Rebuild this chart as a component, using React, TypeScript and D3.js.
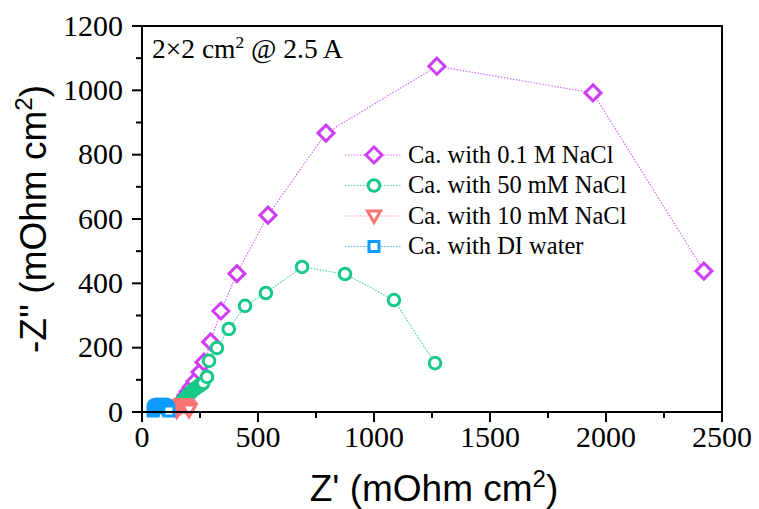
import React from 'react';
import * as d3 from 'd3';

// ---- data ----
const seriesNames = [
  'Ca. with 0.1 M NaCl',
  'Ca. with 50 mM NaCl',
  'Ca. with 10 mM NaCl',
  'Ca. with DI water',
];

const naCl100X = [150, 160, 170, 180, 190, 200, 212, 228, 250, 267, 296, 340, 409, 543, 793, 1271, 1944, 2422];
const naCl100Y = [10, 20, 30, 40, 52, 64, 78, 95, 124, 155, 218, 314, 430, 612, 867, 1075, 992, 438];

const naCl50X = [155, 160, 164, 168, 172, 176, 180, 184, 188, 192, 196, 200, 204, 208, 212, 216, 220, 224, 228, 232, 236, 240, 244, 248, 252, 256, 260, 264, 280, 289, 323, 374, 444, 534, 690, 875, 1086, 1263];
const naCl50Y = [20, 23, 26, 29, 32, 35, 38, 41, 44, 47, 50, 53, 56, 59, 62, 65, 68, 70, 72, 74, 76, 78, 80, 82, 84, 86, 88, 90, 109, 159, 199, 258, 330, 370, 451, 429, 348, 152];

const naCl10X = [150, 152, 155, 158, 161, 164, 168, 172, 176, 180, 184, 188, 192, 196, 199, 202, 204, 203];
const naCl10Y = [3, 7, 11, 14, 17, 19, 21, 22, 23, 23, 22, 21, 18, 15, 12, 9, 6, 6];

const diX = [48, 49, 51, 54, 57, 61, 65, 70, 75, 80, 85, 90, 95, 100, 104, 108, 111, 114, 116];
const diY = [3, 7, 11, 14, 17, 19, 21, 22, 23, 24, 24, 23, 22, 20, 17, 14, 10, 6, 3];

const xTicks = [0, 500, 1000, 1500, 2000, 2500];
const yTicks = [0, 200, 400, 600, 800, 1000, 1200];
const annotation = '2×2 cm';

const colors = ['#CF3CF5', '#17C988', '#FB7474', '#0E9BFF'];
const lineColors = ['#D86BF7', '#4FD6A3', '#FB9A9A', '#4DB3FF'];
const shapes = ['diamond', 'circle', 'triangle', 'square'];

const W = 759, H = 509;
const L = 142, R = 722, T = 26, B = 412;

function markerPath(shape: string): string {
  switch (shape) {
    case 'diamond': return 'M0,-8L8,0L0,8L-8,0Z';
    case 'circle': return 'M5.8,0A5.8,5.8 0 1 1 -5.8,0A5.8,5.8 0 1 1 5.8,0Z';
    case 'triangle': return 'M-6.5,-5L6.5,-5L0,6.5Z';
    default: return 'M-5,-5L5,-5L5,5L-5,5Z';
  }
}

export default function App() {
  const x = d3.scaleLinear().domain([0, 2500]).range([L, R]);
  const y = d3.scaleLinear().domain([0, 1200]).range([B, T]);
  const data = [
    naCl100X.map((v, i) => [v, naCl100Y[i]]),
    naCl50X.map((v, i) => [v, naCl50Y[i]]),
    naCl10X.map((v, i) => [v, naCl10Y[i]]),
    diX.map((v, i) => [v, diY[i]]),
  ];
  const line = d3.line<number[]>().x(d => x(d[0])).y(d => y(d[1]));
  const xMinor = d3.range(0, 2501, 250).filter(v => !xTicks.includes(v));
  const yMinor = d3.range(0, 1201, 100).filter(v => !yTicks.includes(v));
  const serif = '"Liberation Serif", "Times New Roman", serif';
  const sans = '"Liberation Sans", Arial, sans-serif';
  const legX = 374, legY0 = 155, legDy = 30.5;

  return (
    <svg width={W} height={H} style={{ position: 'absolute', left: 0, top: 0, background: '#fff' }}>
      <rect x={0} y={0} width={W} height={H} fill="#fff" />
      {/* series */}
      {data.map((pts, si) => (
        <g key={si}>
          <path d={line(pts) || ''} fill="none" stroke={lineColors[si]} strokeWidth={1.2} strokeDasharray="1.5,1.5" />
          {pts.map((p, i) => (
            <path key={i} d={markerPath(shapes[si])} transform={`translate(${x(p[0])},${y(p[1])})`}
              fill="#fff" stroke={colors[si]} strokeWidth={3} />
          ))}
        </g>
      ))}
      {/* frame */}
      <rect x={L} y={T} width={R - L} height={B - T} fill="none" stroke="#000" strokeWidth={2} />
      {/* x ticks */}
      {xTicks.map(t => (
        <g key={'xt' + t}>
          <line x1={x(t)} x2={x(t)} y1={B} y2={B + 10} stroke="#000" strokeWidth={2} />
          <text x={x(t)} y={447} textAnchor="middle" fontFamily={serif} fontSize={30}>{t}</text>
        </g>
      ))}
      {xMinor.map(t => (
        <line key={'xm' + t} x1={x(t)} x2={x(t)} y1={B} y2={B + 6} stroke="#000" strokeWidth={2} />
      ))}
      {/* y ticks */}
      {yTicks.map(t => (
        <g key={'yt' + t}>
          <line x1={L - 10} x2={L} y1={y(t)} y2={y(t)} stroke="#000" strokeWidth={2} />
          <text x={123} y={y(t) + 9.5} textAnchor="end" fontFamily={serif} fontSize={30}>{t}</text>
        </g>
      ))}
      {yMinor.map(t => (
        <line key={'ym' + t} x1={L - 6} x2={L} y1={y(t)} y2={y(t)} stroke="#000" strokeWidth={2} />
      ))}
      {/* axis titles */}
      <text x={434} y={501} textAnchor="middle" fontFamily={sans} fontSize={37}>
        Z' (mOhm cm<tspan dy={-14} fontSize={24}>2</tspan><tspan dy={14}>)</tspan>
      </text>
      <text transform={`translate(46,${(T + B) / 2}) rotate(-90)`} textAnchor="middle" fontFamily={sans} fontSize={37}>
        -Z'' (mOhm cm<tspan dy={-14} fontSize={24}>2</tspan><tspan dy={14}>)</tspan>
      </text>
      {/* annotation */}
      <text x={152} y={58} fontFamily={serif} fontSize={27.5}>
        {annotation}<tspan dy={-10} fontSize={17.5}>2</tspan><tspan dy={10}> @ 2.5 A</tspan>
      </text>
      {/* legend */}
      {seriesNames.map((name, i) => {
        const ly = legY0 + i * legDy;
        return (
          <g key={'lg' + i}>
            <line x1={legX - 29} x2={legX + 27} y1={ly} y2={ly} stroke={lineColors[i]} strokeWidth={1.2} strokeDasharray="1.5,1.5" />
            <path d={markerPath(shapes[i])} transform={`translate(${legX},${ly})`} fill="#fff" stroke={colors[i]} strokeWidth={3} />
            <text x={408} y={ly + 7.5} fontFamily={serif} fontSize={24.5}>{name}</text>
          </g>
        );
      })}
    </svg>
  );
}
